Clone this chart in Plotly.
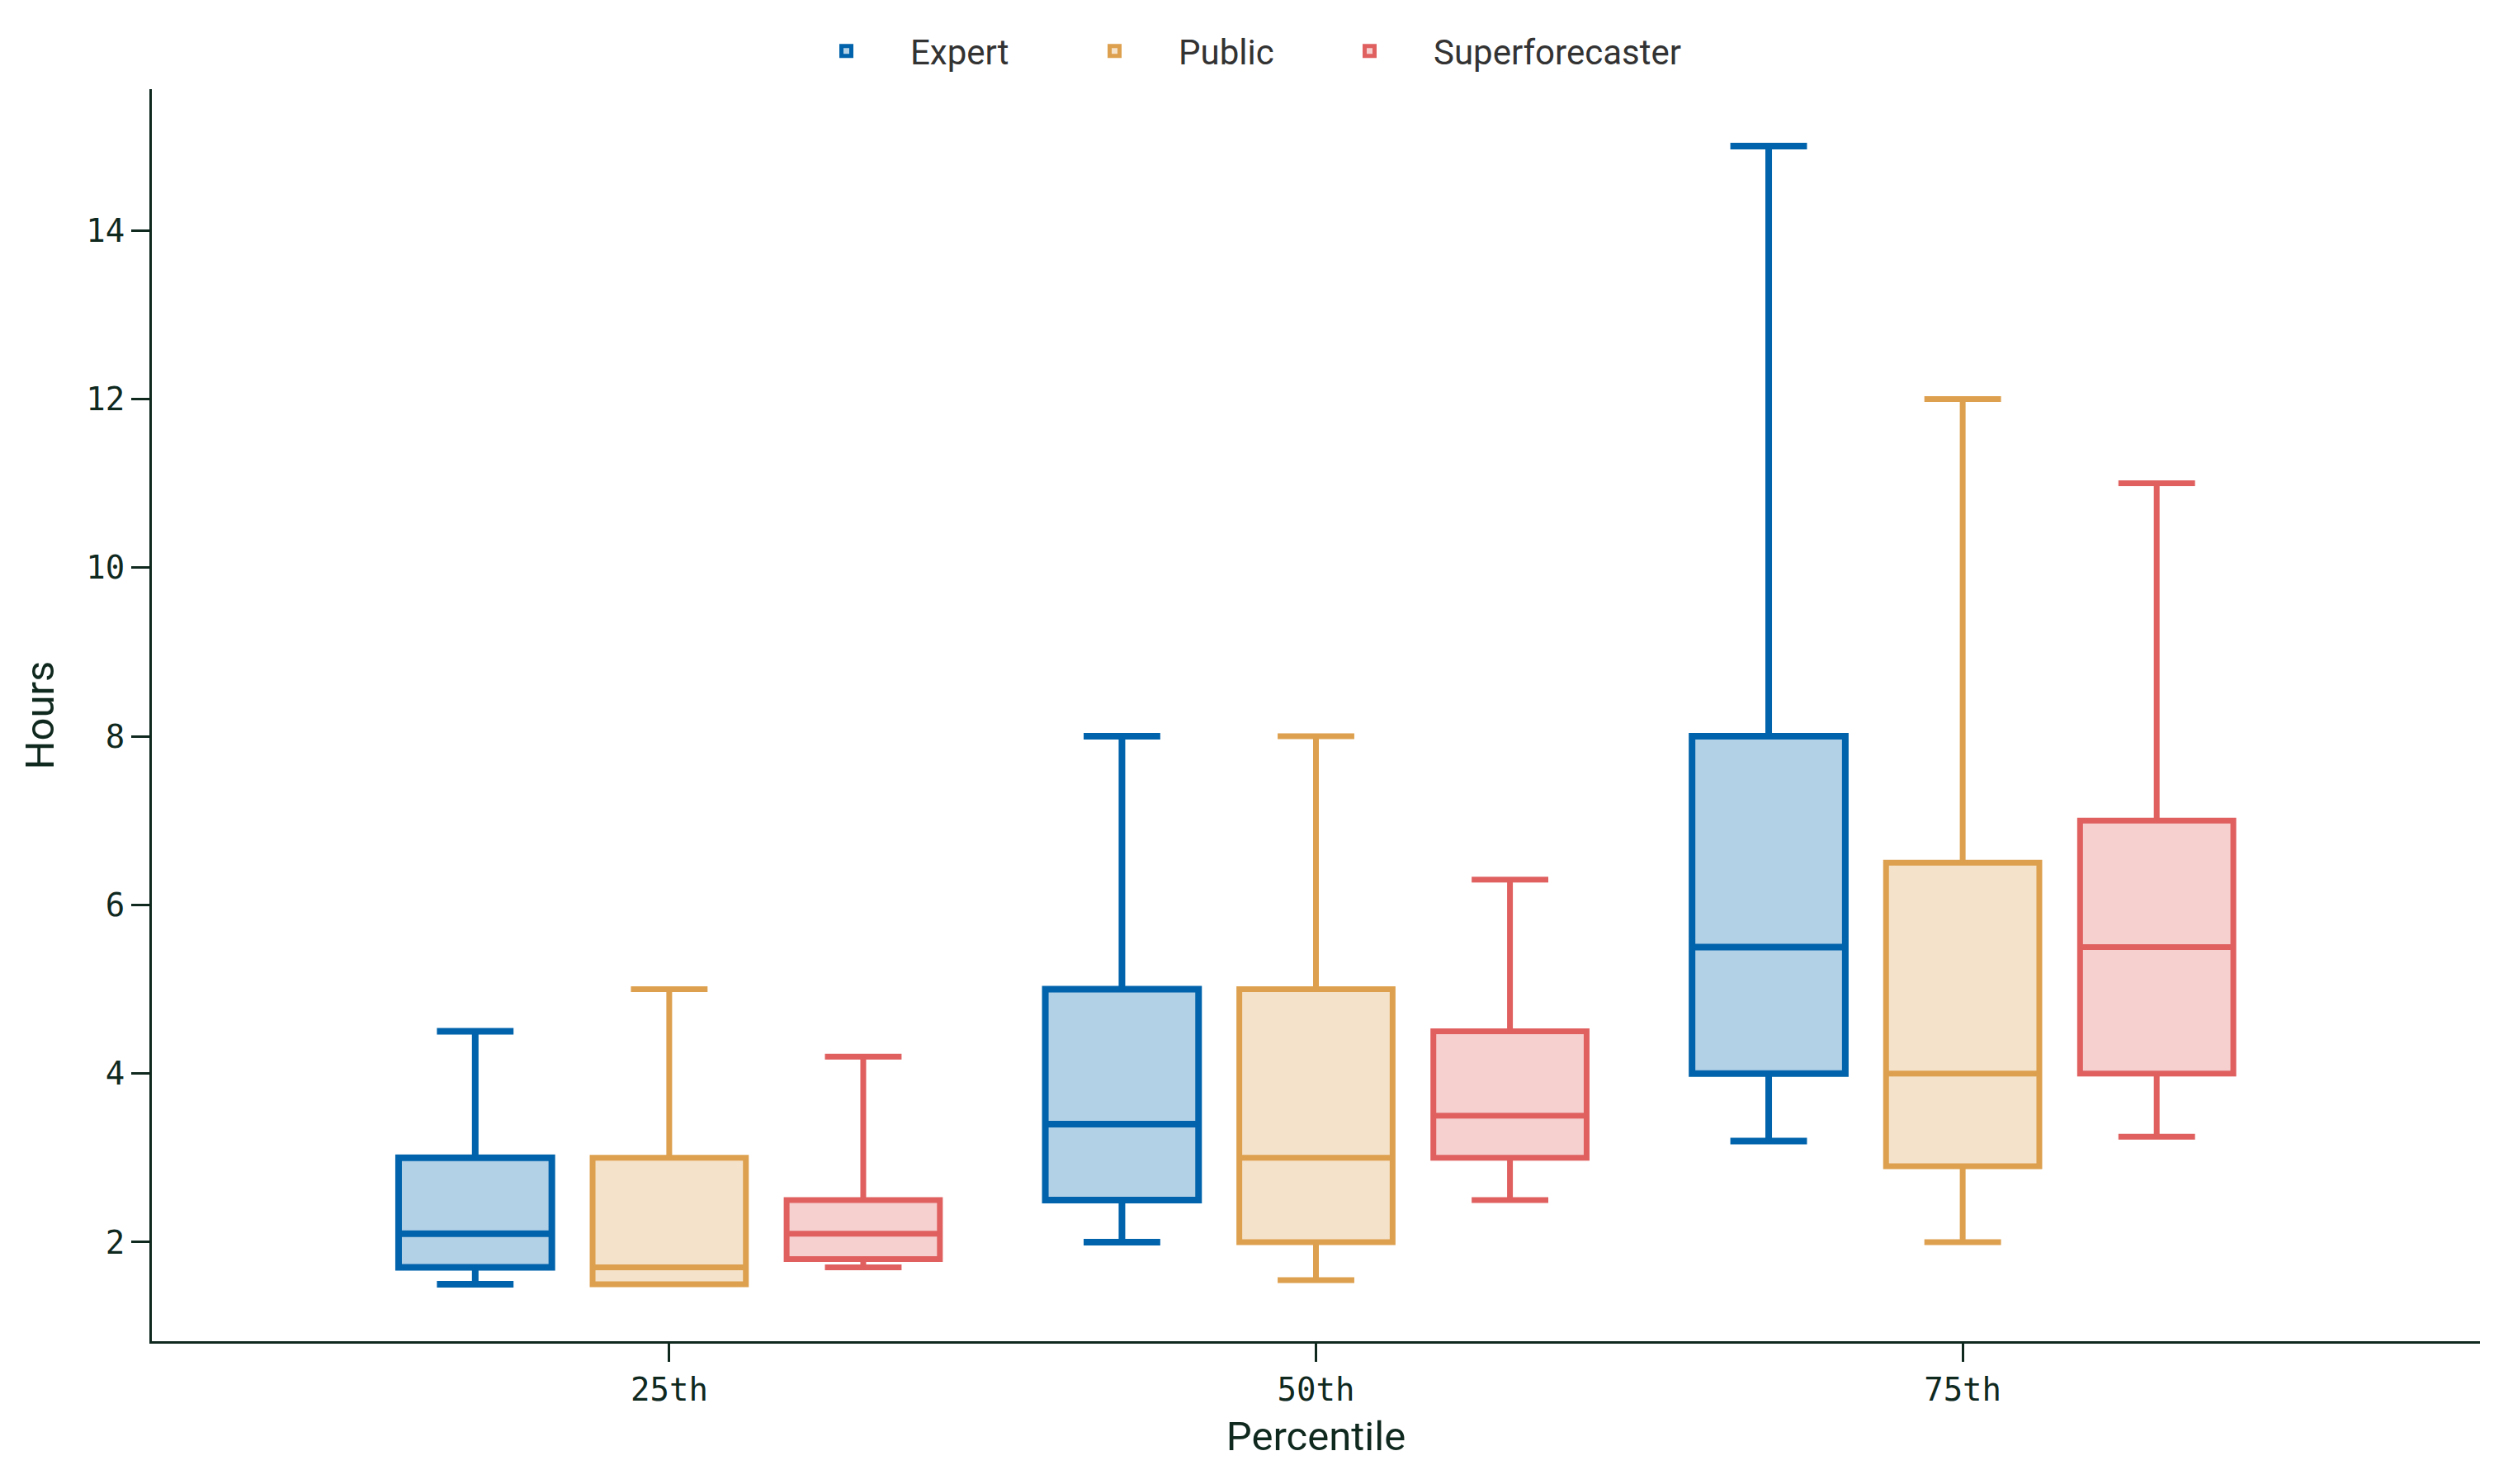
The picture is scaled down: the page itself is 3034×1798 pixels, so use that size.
import plotly.graph_objects as go

percentiles = ["25th", "50th", "75th"]
groups = ["Expert", "Public", "Superforecaster"]

expert_low = [1.5, 2.0, 3.2]
expert_q1 = [1.7, 2.5, 4.0]
expert_med = [2.1, 3.4, 5.5]
expert_q3 = [3.0, 5.0, 8.0]
expert_high = [4.5, 8.0, 15.0]

public_low = [1.5, 1.55, 2.0]
public_q1 = [1.5, 2.0, 2.9]
public_med = [1.7, 3.0, 4.0]
public_q3 = [3.0, 5.0, 6.5]
public_high = [5.0, 8.0, 12.0]

super_low = [1.7, 2.5, 3.25]
super_q1 = [1.8, 3.0, 4.0]
super_med = [2.1, 3.5, 5.5]
super_q3 = [2.5, 4.5, 7.0]
super_high = [4.2, 6.3, 11.0]

line_colors = ["#0063AB", "#DDA04E", "#E06060"]
fill_colors = ["rgba(0,99,171,0.30)", "rgba(221,160,78,0.30)", "rgba(224,96,96,0.30)"]
line_widths = [8, 7, 7]
legend_ids = ["legend", "legend2", "legend3"]
legend_left_px = [948, 1273, 1582]

stats = [
    (expert_low, expert_q1, expert_med, expert_q3, expert_high),
    (public_low, public_q1, public_med, public_q3, public_high),
    (super_low, super_q1, super_med, super_q3, super_high),
]

fig = go.Figure()
for name, (lo, q1, med, q3, hi), lc, fc, lw, lg in zip(groups, stats, line_colors, fill_colors,
                                                     line_widths, legend_ids):
    fig.add_trace(go.Box(
        name=name,
        x=percentiles,
        lowerfence=lo, q1=q1, median=med, q3=q3, upperfence=hi,
        boxpoints=False,
        line=dict(color=lc, width=lw),
        fillcolor=fc,
        whiskerwidth=0.5,
        legend=lg,
    ))

axis_color = "#10291F"
W, H = 3034, 1798
legend_common = dict(orientation="h", xanchor="left", y=1 - 62 / H, yanchor="middle",
                     xref="container", yref="container",
                     font=dict(family="Roboto", size=42, color="#333333"),
                     itemwidth=145, bgcolor="rgba(0,0,0,0)")
fig.update_layout(
    width=W, height=H,
    paper_bgcolor="white", plot_bgcolor="white",
    boxmode="group", boxgap=0.1, boxgroupgap=0.21,
    margin=dict(l=184, r=29, t=103, b=173),
    font=dict(family="Roboto", size=38, color=axis_color),
    showlegend=True,
)
for lg, lx in zip(legend_ids, legend_left_px):
    fig.update_layout({lg: dict(legend_common, x=lx / W)})

fig.update_xaxes(
    type="category", range=[-0.8, 2.8],
    showline=True, linecolor=axis_color, linewidth=3,
    ticks="outside", ticklen=22, tickwidth=3, tickcolor=axis_color,
    tickfont=dict(family="DejaVu Sans Mono", size=39, color=axis_color),
    showgrid=False, zeroline=False,
    title=dict(text="Percentile", font=dict(family="Roboto", size=49, color=axis_color), standoff=18),
)
fig.update_yaxes(
    range=[0.825, 15.675],
    tickvals=[2, 4, 6, 8, 10, 12, 14],
    showline=True, linecolor=axis_color, linewidth=3,
    ticks="outside", ticklen=22, tickwidth=3, tickcolor=axis_color,
    tickfont=dict(family="DejaVu Sans Mono", size=39, color=axis_color),
    showgrid=False, zeroline=False,
    title=dict(text="Hours", font=dict(family="Roboto", size=49, color=axis_color), standoff=24),
)

fig.write_html("out.html")
